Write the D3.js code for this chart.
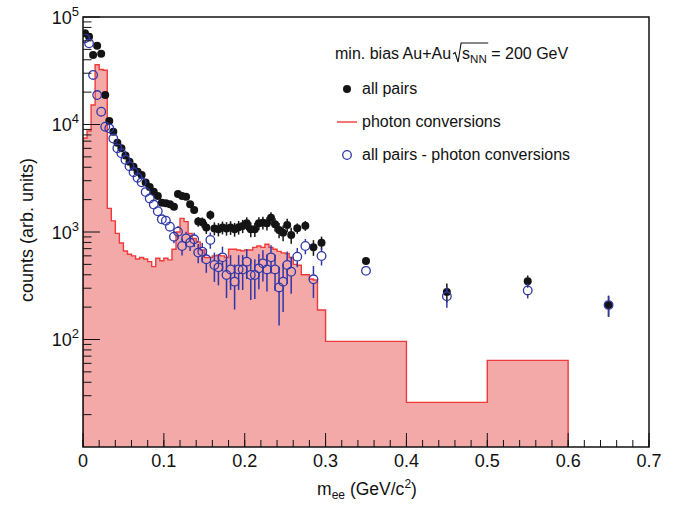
<!DOCTYPE html>
<html><head><meta charset="utf-8">
<script src="https://cdn.jsdelivr.net/npm/d3@7"></script>
<style>
body{margin:0;background:#fff}
svg{display:block}
text{font-family:"Liberation Sans",Arial,Helvetica,sans-serif;fill:#111}
</style>
</head><body>
<svg id="chart" width="683" height="506"></svg>
<script>
// ---------- data ----------
const histEdges = [0,0.005,0.01,0.015,0.02,0.025,0.03,0.035,0.04,0.045,0.05,0.055,0.06,0.065,0.07,0.075,0.08,0.085,0.09,0.095,
  0.1,0.105,0.11,0.115,0.12,0.125,0.13,0.135,0.14,0.145,0.15,0.155,0.16,0.165,0.17,0.175,0.18,0.185,0.19,0.195,
  0.2,0.205,0.21,0.215,0.22,0.225,0.23,0.235,0.24,0.245,0.25,0.255,0.26,0.265,0.27,0.275,0.28,0.285,0.29,0.295,
  0.3,0.4,0.5,0.6];
const photonConv = [7500,8700,15200,36000,32500,32000,1660,1270,970,790,665,620,600,560,580,560,530,476,570,540,
  570,550,690,1000,1340,1250,970,870,810,680,580,580,600,610,600,580,690,690,680,670,
  680,680,720,740,720,770,720,690,660,640,630,580,500,490,400,400,365,358,188,188,
  96,26,64];

const massPoints = [0.0025,0.0075,0.0125,0.0175,0.0225,0.0275,0.0325,0.0375,0.0425,0.0475,0.0525,0.0575,0.0625,0.0675,0.0725,0.0775,0.0825,0.0875,0.0925,0.0975,
  0.1025,0.1075,0.1125,0.1175,0.1225,0.1275,0.1325,0.1375,0.1425,0.1475,0.1525,0.1575,0.1625,0.1675,0.1725,0.1775,0.1825,0.1875,0.1925,0.1975,
  0.2025,0.2075,0.2125,0.2175,0.2225,0.2275,0.2325,0.2375,0.2425,0.2475,0.2525,0.2575,0.265,0.275,0.285,0.295,
  0.35,0.45,0.55,0.65];
const allPairs = [70500,65600,44300,54100,45600,18800,10800,8570,6770,6010,5150,4500,4050,3640,3390,2880,2620,2370,2160,1875,
  1848,1808,1720,2260,2160,2130,1808,1603,1250,1230,1100,1440,1080,1060,1100,1080,1100,1060,1105,1137,
  1204,1059,1059,1204,1222,1204,1358,1178,1043,986,1161,937,1081,1145,720,796,
  538,276,349,209];
const pairsMinusConv = [63400,56900,28900,18800,13150,9540,9210,7400,6000,5400,4700,4100,3600,3200,2900,2350,2050,1800,1560,1313,
  1275,1122,904,1007,741,873,796,855,643,657,557,843,493,469,581,398,449,345,449,449,
  530,398,398,459,511,449,581,449,305,345,493,427,590,741,363,598,
  435,252,286,209];
const statErr = [300,280,240,250,230,150,110,100,90,85,80,75,72,70,68,65,62,60,100,105,
  110,115,120,130,135,135,130,130,130,135,140,145,150,150,150,155,160,155,160,160,
  165,165,160,165,165,170,170,165,170,165,165,160,120,120,120,110,
  25,55,45,46];

const xTickValues = [0,0.1,0.2,0.3,0.4,0.5,0.6,0.7];
const xTickLabels = ["0","0.1","0.2","0.3","0.4","0.5","0.6","0.7"];
const yTickValues = [100,1000,10000,100000];
const yTickExponents = ["2","3","4","5"];

const legendHeader = "min. bias Au+Au";
const legendEnergy = "= 200 GeV";
const legendLabels = ["all pairs","photon conversions","all pairs - photon conversions"];
const xTitle = {main:"m", sub:"ee", rest:" (GeV/c", sup:"2", end:")"};
const yTitle = "counts (arb. units)";

// ---------- layout ----------
const L = 83, R = 649, T = 17, B = 447;
const svg = d3.select("#chart");
const x = d3.scaleLinear().domain([0,0.7]).range([L,R]);
const y = d3.scaleLog().domain([10,1e5]).range([B,T]);

const black = "#141414", blue = "#2f37a8", red = "#ee3a3a", pink = "#f2a9a8";

svg.append("defs").append("clipPath").attr("id","plotclip")
  .append("rect").attr("x",L).attr("y",T).attr("width",R-L).attr("height",B-T);

// ---------- histogram ----------
const hp = d3.path();
hp.moveTo(x(histEdges[0]), y(10));
photonConv.forEach((v,i)=>{
  hp.lineTo(x(histEdges[i]), y(v));
  hp.lineTo(x(histEdges[i+1]), y(v));
});
hp.lineTo(x(histEdges[histEdges.length-1]), y(10));
svg.append("path").attr("d",hp.toString()).attr("clip-path","url(#plotclip)")
  .attr("fill",pink).attr("stroke",red).attr("stroke-width",1.4).attr("stroke-linejoin","miter");

// ---------- points ----------
const pts = massPoints.map((m,i)=>({m, a:allPairs[i], b:pairsMinusConv[i], e:statErr[i]}));
const gPts = svg.append("g").attr("clip-path","url(#plotclip)");
function bars(g, key, col, gap){
  pts.forEach(d=>{
    const cx = x(d.m), cy = y(d[key]);
    const top = y(d[key]+d.e), bot = y(Math.max(d[key]-d.e, 10.5));
    if (cy-gap > top) g.append("line").attr("x1",cx).attr("x2",cx).attr("y1",cy-gap).attr("y2",top).attr("stroke",col).attr("stroke-width",1.5);
    if (bot > cy+gap) g.append("line").attr("x1",cx).attr("x2",cx).attr("y1",cy+gap).attr("y2",bot).attr("stroke",col).attr("stroke-width",1.5);
  });
}
bars(gPts,"a",black,3.5);
gPts.selectAll("circle.all").data(pts).join("circle").attr("class","all")
  .attr("cx",d=>x(d.m)).attr("cy",d=>y(d.a)).attr("r",4).attr("fill",black);
bars(gPts,"b",blue,4.6);
gPts.selectAll("circle.sub").data(pts).join("circle").attr("class","sub")
  .attr("cx",d=>x(d.m)).attr("cy",d=>y(d.b)).attr("r",4.3)
  .attr("fill","none").attr("stroke",blue).attr("stroke-width",1.3);

// ---------- axes / frame ----------
const ax = svg.append("g").attr("stroke","#111");
ax.append("rect").attr("x",L).attr("y",T).attr("width",R-L).attr("height",B-T)
  .attr("fill","none").attr("stroke-width",1.5);
const xMinor = d3.range(0,36).map(i=>i*0.02).filter(v=>v<=0.7001);
xMinor.forEach(v=>{
  ax.append("line").attr("x1",x(v)).attr("x2",x(v)).attr("y1",B).attr("y2",B-7).attr("stroke-width",1);
});
xTickValues.forEach(v=>{
  ax.append("line").attr("x1",x(v)).attr("x2",x(v)).attr("y1",B).attr("y2",B-14).attr("stroke-width",1);
});
svg.append("g").selectAll("text").data(xTickValues).join("text")
  .attr("x",d=>x(d)).attr("y",467).attr("text-anchor","middle").attr("font-size",18)
  .text((d,i)=>xTickLabels[i]);
[10,100,1000,10000].forEach(dec=>{
  for(let k=2;k<=9;k++){
    const v=dec*k;
    ax.append("line").attr("x1",L).attr("x2",L+8.5).attr("y1",y(v)).attr("y2",y(v)).attr("stroke-width",1);
  }
});
yTickValues.forEach(v=>{
  ax.append("line").attr("x1",L).attr("x2",L+17).attr("y1",y(v)).attr("y2",y(v)).attr("stroke-width",1);
});
yTickValues.forEach((v,i)=>{
  const t = svg.append("text").attr("x",79).attr("y",y(v)+6.5).attr("text-anchor","end").attr("font-size",18);
  t.append("tspan").text("10");
  t.append("tspan").attr("dy",-8).attr("font-size",13).text(yTickExponents[i]);
});

// axis titles
const xt = svg.append("text").attr("x",367).attr("y",495).attr("text-anchor","middle").attr("font-size",17.5);
xt.append("tspan").text(xTitle.main);
xt.append("tspan").attr("dy",4).attr("font-size",12).text(xTitle.sub);
xt.append("tspan").attr("dy",-4).text(xTitle.rest);
xt.append("tspan").attr("dy",-7).attr("font-size",12).text(xTitle.sup);
xt.append("tspan").attr("dy",7).text(xTitle.end);

svg.append("text").attr("transform","translate(33,230) rotate(-90)").attr("text-anchor","middle")
  .attr("font-size",18).text(yTitle);

// ---------- legend ----------
const lg = svg.append("g");
const hx = 335, hy = 59;
const h1 = lg.append("text").attr("x",hx).attr("y",hy).attr("font-size",16).text(legendHeader);
const w1 = h1.node().getComputedTextLength();
const sx = hx + w1 + 2;
const sT = lg.append("text").attr("x",sx+9).attr("y",hy).attr("font-size",16);
sT.append("tspan").text("s");
sT.append("tspan").attr("dy",4).attr("font-size",11.5).text("NN");
const wS = sT.node().getComputedTextLength();
const sEnd = sx + 9 + wS + 1.5;
lg.append("path").attr("d",`M${sx},${hy-5} L${sx+2},${hy-6.5} L${sx+5},${hy+3} L${sx+8},${hy-16} L${sEnd},${hy-16}`)
  .attr("fill","none").attr("stroke","#111").attr("stroke-width",1.1);
lg.append("text").attr("x",sEnd+3).attr("y",hy).attr("font-size",16).text(legendEnergy);

const rows = [94, 127, 160];
lg.append("circle").attr("cx",347).attr("cy",rows[0]-5).attr("r",4).attr("fill",black);
lg.append("line").attr("x1",337).attr("x2",357).attr("y1",rows[1]-5).attr("y2",rows[1]-5).attr("stroke",red).attr("stroke-width",1.4);
lg.append("circle").attr("cx",347).attr("cy",rows[2]-5).attr("r",4.3).attr("fill","none").attr("stroke",blue).attr("stroke-width",1.3);
legendLabels.forEach((s,i)=>{
  lg.append("text").attr("x",362).attr("y",rows[i]).attr("font-size",16).text(s);
});
</script>
</body></html>
